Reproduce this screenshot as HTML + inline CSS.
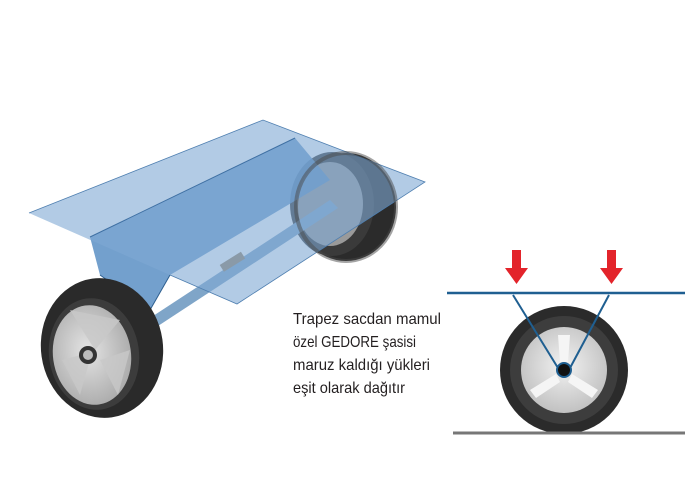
<!DOCTYPE html>
<html><head><meta charset="utf-8"><style>
html,body{margin:0;padding:0;background:#fff;}
svg{display:block}
</style></head><body>
<svg width="690" height="501" viewBox="0 0 690 501" xmlns="http://www.w3.org/2000/svg">
<defs>
<radialGradient id="hub" cx="0.45" cy="0.45" r="0.6"><stop offset="0" stop-color="#e4e4e4"/><stop offset="1" stop-color="#a9a9a9"/></radialGradient>
<radialGradient id="hub2" cx="0.5" cy="0.45" r="0.6"><stop offset="0" stop-color="#f2f2f2"/><stop offset="1" stop-color="#bdbdbd"/></radialGradient>
</defs>
<!-- back wheel -->
<ellipse cx="346" cy="207" rx="50" ry="54" fill="#2b2b2b"/>
<ellipse cx="332" cy="204" rx="42" ry="52" fill="#3a3a3a"/>
<ellipse cx="330" cy="204" rx="33" ry="42" fill="#9a9a9a"/>
<!-- axle -->
<polygon points="150,318 158,326 338,208 330,200" fill="#7fa5c8"/>
<!-- sheet: V walls -->
<polygon points="90,237 295,138 330,180 170,275 150,310 100,275" fill="#5b8fc4" opacity="0.85"/>
<!-- top plate -->
<polygon points="29,213 263,120 425,182 237,304 170,275" fill="#7fa9d4" opacity="0.6"/>
<polyline points="29,213 263,120 425,182 237,304 170,275" fill="none" stroke="#4f7fb0" stroke-width="0.8"/>
<line x1="90" y1="237" x2="295" y2="138" stroke="#3f70a3" stroke-width="1"/>
<polyline points="100,275 150,310 170,275" fill="none" stroke="#2f6090" stroke-width="1"/>
<rect x="220" y="258" width="25" height="8" fill="#8a9aa8" transform="rotate(-32 232 262)"/>
<!-- back wheel visible faded -->
<ellipse cx="346" cy="207" rx="50" ry="54" fill="none" stroke="#4a4a4a" stroke-width="4" opacity="0.5"/>
<!-- front wheel -->
<ellipse cx="102" cy="348" rx="61" ry="70" fill="#2a2a2a" transform="rotate(-8 102 348)"/>
<ellipse cx="94" cy="354" rx="45" ry="56" fill="#3c3c3c" transform="rotate(-8 94 354)"/>
<ellipse cx="92" cy="355" rx="39" ry="50" fill="url(#hub)" transform="rotate(-8 92 355)"/>
<path d="M70 310 L95 350 L120 320 Z M62 360 L92 352 L80 395 Z M100 360 L130 350 L118 395 Z" fill="#c8c8c8" opacity="0.8"/>
<circle cx="88" cy="355" r="9" fill="#333"/>
<circle cx="88" cy="355" r="5" fill="#bbb"/>
<!-- text -->
<g font-family="Liberation Sans, sans-serif" font-size="16" fill="#231f20">
<text x="293" y="324" textLength="148" lengthAdjust="spacingAndGlyphs">Trapez sacdan mamul</text>
<text x="293" y="347" textLength="123" lengthAdjust="spacingAndGlyphs">özel GEDORE şasisi</text>
<text x="293" y="370" textLength="137" lengthAdjust="spacingAndGlyphs">maruz kaldığı yükleri</text>
<text x="293" y="393" textLength="112" lengthAdjust="spacingAndGlyphs">eşit olarak dağıtır</text>
</g>
<!-- right diagram -->
<circle cx="564" cy="370" r="64" fill="#2b2b2b"/>
<circle cx="564" cy="370" r="54" fill="#3d3d3d"/>
<circle cx="564" cy="370" r="43" fill="url(#hub2)"/>
<path d="M558 335 L570 335 L568 362 L560 362 Z M530 390 L556 374 L560 382 L536 398 Z M598 390 L572 374 L568 382 L592 398 Z" fill="#f5f5f5"/>
<line x1="453" y1="433" x2="685" y2="433" stroke="#777" stroke-width="3"/>
<line x1="447" y1="293" x2="685" y2="293" stroke="#1f5f91" stroke-width="2.5"/>
<polyline points="513,295 558,368" fill="none" stroke="#1f5f91" stroke-width="2"/>
<polyline points="570,368 609,295" fill="none" stroke="#1f5f91" stroke-width="2"/>
<circle cx="564" cy="370" r="7" fill="#111" stroke="#1f5f91" stroke-width="2"/>
<polygon points="512,250 521,250 521,268 528,268 516.5,284 505,268 512,268" fill="#e3242b"/>
<polygon points="607,250 616,250 616,268 623,268 611.5,284 600,268 607,268" fill="#e3242b"/>
</svg>
</body></html>
